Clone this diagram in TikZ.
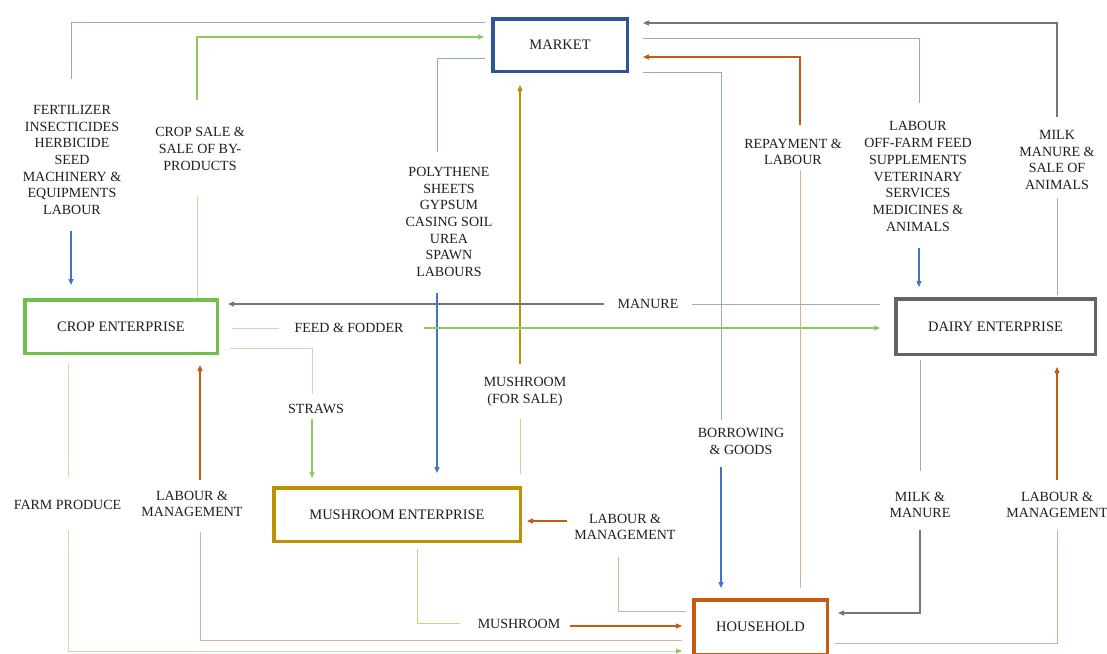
\documentclass[tikz,border=0pt]{standalone}
\usepackage{fontspec}
\setmainfont{Liberation Serif}
\usetikzlibrary{arrows.meta,calc}
\definecolor{mktblue}{RGB}{46,85,151}
\definecolor{cropgreen}{RGB}{112,192,75}
\definecolor{dairygray}{RGB}{100,100,100}
\definecolor{mushgold}{RGB}{191,144,0}
\definecolor{hhorange}{RGB}{197,90,17}
\definecolor{blueA}{RGB}{68,114,196}
\definecolor{blueL}{RGB}{143,170,210}
\definecolor{greenA}{RGB}{140,203,94}
\definecolor{greenL}{RGB}{195,222,168}
\definecolor{grayA}{RGB}{118,118,118}
\definecolor{grayL}{RGB}{165,170,175}
\definecolor{orangeA}{RGB}{197,90,17}
\definecolor{orangeL}{RGB}{214,176,148}
\definecolor{goldA}{RGB}{191,144,0}
\definecolor{goldL}{RGB}{218,202,140}
\definecolor{txt}{RGB}{30,30,30}
\newcommand\labfont{\fontsize{14}{16.7}\selectfont}
\newcommand\boxfont{\fontsize{14.5}{17}\selectfont}
\tikzset{
  box/.style={draw, line width=3.5pt, align=center, font=\boxfont, text=txt, inner sep=0pt},
  lab/.style={align=center, font=\labfont, text=txt, inner sep=0pt},
  ln/.style={line width=0.9pt},
  arr/.style={line width=1.2pt, -{Triangle[length=6pt,width=5pt]}},
}
\begin{document}
\begin{tikzpicture}[x=1pt,y=-1pt]
\useasboundingbox (0,0) rectangle (1107,653);
\clip (0,0) rectangle (1107,653);
\fill[white] (0,0) rectangle (1107,653);
% boxes
\node[box, draw=mktblue, minimum width=134.5pt, minimum height=52.5pt] (market) at (560,45) {MARKET};
\node[box, draw=cropgreen, minimum width=192.5pt, minimum height=53.5pt] (crop) at (121,326.5) {CROP ENTERPRISE};
\node[box, draw=dairygray, minimum width=199.5pt, minimum height=55.5pt] (dairy) at (995.5,326.5) {DAIRY ENTERPRISE};
\node[box, draw=mushgold, minimum width=246.5pt, minimum height=53.5pt] (mush) at (397,514.5) {MUSHROOM ENTERPRISE};
\node[box, draw=hhorange, minimum width=133.5pt, minimum height=54.5pt] (house) at (760.5,627) {HOUSEHOLD};
% labels
\node[lab] (fert) at (72,160) {FERTILIZER\\INSECTICIDES\\HERBICIDE\\SEED\\MACHINERY \&\\EQUIPMENTS\\LABOUR};
\node[lab] (cropsale) at (200,149) {CROP SALE \&\\SALE OF BY-\\PRODUCTS};
\node[lab] (poly) at (449,222) {POLYTHENE\\SHEETS\\GYPSUM\\CASING SOIL\\UREA\\SPAWN\\LABOURS};
\node[lab] (mfs) at (525,392) {MUSHROOM\\(FOR SALE)};
\node[lab] (borrow) at (741,441.5) {BORROWING\\\& GOODS};
\node[lab] (repay) at (793,152) {REPAYMENT \&\\LABOUR};
\node[lab] (dairyin) at (918,176.5) {LABOUR\\OFF-FARM FEED\\SUPPLEMENTS\\VETERINARY\\SERVICES\\MEDICINES \&\\ANIMALS};
\node[lab] (milkout) at (1057,160) {MILK\\MANURE \&\\SALE OF\\ANIMALS};
\node[lab] (manure) at (648,304) {MANURE};
\node[lab] (feed) at (349,328) {FEED \& FODDER};
\node[lab] (straws) at (316,408.5) {STRAWS};
\node[lab] (farm) at (67.5,505) {FARM PRODUCE};
\node[lab] (lm1) at (192,504) {LABOUR \&\\MANAGEMENT};
\node[lab] (lm2) at (625,527) {LABOUR \&\\MANAGEMENT};
\node[lab] (mushlab) at (519,624) {MUSHROOM};
\node[lab] (milkman) at (920,505) {MILK \&\\MANURE};
\node[lab] (lm3) at (1057,505) {LABOUR \&\\MANAGEMENT};
% C1 market -> crop
\draw[ln,blueL] ($(market.north west)+(-6,5)$) -| ($(fert.north)+(-1,-26)$);
\draw[arr,blueA] ($(fert.south)+(-1,16)$) -- ($(fert.south |- crop.north)+(-1,-13)$);
% C2 crop -> market
\draw[ln,greenL] ($(cropsale.south |- crop.north)+(-3,0)$) -- ($(cropsale.south)+(-3,25)$);
\draw[arr,greenA] ($(cropsale.north)+(-3,-27)$) |- ($(market.west)+(-7,-8)$);
% C3 market -> mushroom
\draw[ln,blueL] ($(market.west)+(-6,13)$) -| ($(poly.north)+(-12,-15)$);
\draw[arr,blueA] ($(poly.south)+(-12,16)$) -- ($(poly.south |- mush.north)+(-12,-13)$);
% C4 mushroom -> market
\draw[ln,goldL] ($(mfs.south |- mush.north)+(-5,-12)$) -- ($(mfs.south)+(-5,12)$);
\draw[arr,goldA] ($(mfs.north)+(-5,-13)$) -- ($(mfs.north |- market.south)+(-5,12)$);
% C5 market -> household
\draw[ln,blueL] ($(market.east)+(14,27)$) -| ($(borrow.north)+(-20,-8)$);
\draw[arr,blueA] ($(borrow.south)+(-20,12)$) -- ($(borrow.south |- house.north)+(-20,-10)$);
% C6 household -> market
\draw[ln,orangeL] ($(repay.south |- house.north)+(7,-10)$) -- ($(repay.south)+(7,5)$);
\draw[arr,orangeA] ($(repay.north)+(7,-14)$) |- ($(market.east)+(14,12)$);
% C7 market -> dairy
\draw[ln,blueL] ($(market.east)+(14,-7)$) -| ($(dairyin.north)+(1,-18)$);
\draw[arr,blueA] ($(dairyin.south)+(1,16)$) -- ($(dairyin.south |- dairy.north)+(1,-10)$);
% C8 dairy -> market
\draw[ln,grayL] ($(milkout.south |- dairy.north)+(0,-2)$) -- ($(milkout.south)+(0,8)$);
\draw[arr,grayA] ($(milkout.north)+(0,-13)$) |- ($(market.east)+(14,-22)$);
% C9 dairy -> crop (manure)
\draw[ln,grayL] ($(dairy.west |- manure.east)+(-14,0)$) -- ($(manure.east)+(13,0)$);
\draw[arr,grayA] ($(manure.west)+(-13,0)$) -- ($(crop.east |- manure.west)+(9,0)$);
% C10 crop -> dairy (feed)
\draw[ln,greenL] ($(crop.east |- feed.west)+(13,0)$) -- ($(feed.west)+(-15,0)$);
\draw[arr,greenA] ($(feed.east)+(20,0)$) -- ($(dairy.west |- feed.east)+(-14,0)$);
% C11 crop -> mushroom (straws)
\draw[ln,greenL] ($(crop.east)+(11,21.5)$) -| ($(straws.north)+(-4,-10)$);
\draw[arr,greenA] ($(straws.south)+(-4,6)$) -- ($(straws.south |- mush.north)+(-4,-8)$);
% C12 crop -> household (farm produce)
\draw[ln,greenL] ($(farm.north |- crop.south)+(1,8)$) -- ($(farm.north)+(1,-23)$);
\draw[ln,greenL,-{Triangle[length=6pt,width=5pt,color=greenA]}] ($(farm.south)+(1,20)$) |- ($(house.west)+(-10,24)$);
% C13 household -> crop
\draw[ln,orangeL] ($(house.west)+(-10,13)$) -| ($(lm1.south)+(8,15)$);
\draw[arr,orangeA] ($(lm1.north)+(8,-11)$) -- ($(lm1.north |- crop.south)+(8,10)$);
% C14 mushroom -> household
\draw[ln,goldL] ($(mush.south)+(20,6)$) |- ($(mushlab.west)+(-18,-1)$);
\draw[arr,orangeA] ($(mushlab.east)+(10,2)$) -- ($(house.west)+(-10,-1)$);
% C15 household -> mushroom
\draw[ln,orangeL] ($(house.west)+(-6,-16)$) -| ($(lm2.south)+(-7,17)$);
\draw[arr,orangeA] ($(lm2.west)+(-7,-6)$) -- ($(mush.east |- lm2.west)+(5,-6)$);
% C16 dairy -> household
\draw[ln,grayL] ($(milkman.north |- dairy.south)+(0,4)$) -- ($(milkman.north)+(0,-21)$);
\draw[arr,grayA] ($(milkman.south)+(0,12)$) |- ($(house.east)+(9,-14)$);
% C17 household -> dairy
\draw[ln,orangeL] ($(house.east)+(6,16)$) -| ($(lm3.south)+(0,12)$);
\draw[arr,orangeA] ($(lm3.north)+(0,-12)$) -- ($(lm3.north |- dairy.south)+(0,11)$);
\end{tikzpicture}
\end{document}
